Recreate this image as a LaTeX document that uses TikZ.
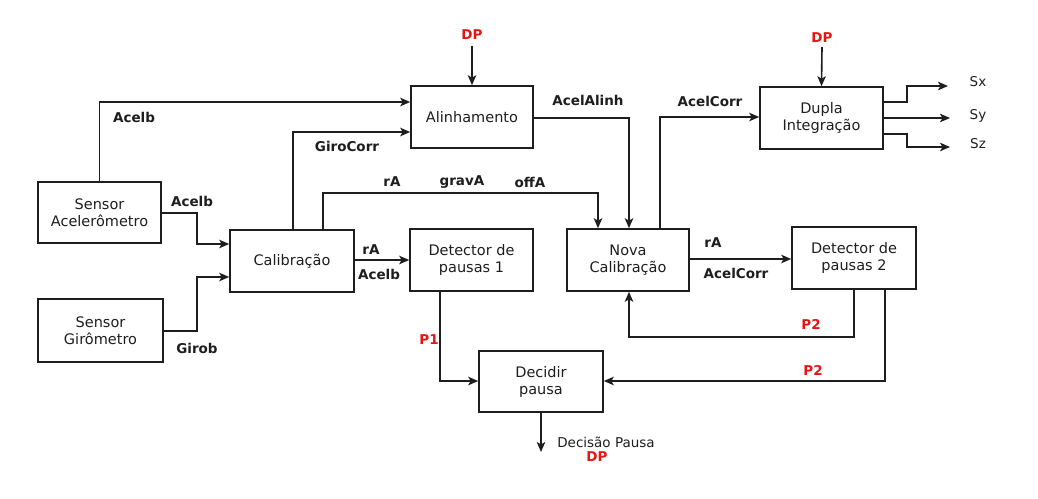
\documentclass[tikz,border=0pt]{standalone}
\usepackage{fontspec}
\setmainfont{DejaVu Sans}
\usetikzlibrary{arrows.meta}
\definecolor{lbred}{RGB}{232,20,20}
\definecolor{ink}{RGB}{30,30,30}
\begin{document}
\begin{tikzpicture}[x=1pt,y=-1pt,
  box/.style={draw=ink,line width=1.6pt,rectangle,align=center,inner sep=0pt,
    text=ink,font=\fontsize{14.5}{17}\selectfont},
  arr/.style={draw=ink,line width=1.6pt,-{Stealth[length=10pt,width=8.5pt,inset=2.5pt]}},
  lbl/.style={font=\fontsize{13.5}{16}\selectfont\bfseries,inner sep=0pt,text=ink},
  rlbl/.style={lbl,text=lbred},
  olbl/.style={font=\fontsize{13.5}{16}\selectfont,inner sep=0pt,text=ink}]
\path[use as bounding box,fill=white] (0,0) rectangle (1038,498);

% boxes
\node[box,minimum width=123,minimum height=61] (sa)  at (99.5,212.5) {Sensor\\Acelerômetro};
\node[box,minimum width=125,minimum height=63] (sg)  at (100.5,330.5) {Sensor\\Girômetro};
\node[box,minimum width=124,minimum height=62] (cal) at (292,261) {Calibração};
\node[box,minimum width=122,minimum height=62] (ali) at (472,117) {Alinhamento};
\node[box,minimum width=123,minimum height=62] (dp1) at (471.5,260) {Detector de\\pausas 1};
\node[box,minimum width=122,minimum height=62] (nc)  at (628,260) {Nova\\Calibração};
\node[box,minimum width=123,minimum height=62] (di)  at (821.5,118) {Dupla\\Integração};
\node[box,minimum width=124,minimum height=62] (dp2) at (854,258) {Detector de\\pausas 2};
\node[box,minimum width=124,minimum height=61] (dec) at (541,381.5) {Decidir\\pausa};

% labels
\node[lbl] (l1) at (134,117) {Acelb};
\node[lbl] (l2) at (347,146) {GiroCorr};
\node[lbl] (l3) at (192,201) {Acelb};
\node[lbl] (l4) at (197,348) {Girob};
\node[lbl] (l5) at (392,182) {rA};
\node[lbl] (l6) at (462,182) {gravA};
\node[lbl] (l7) at (530,182) {offA};
\node[lbl] (l8) at (371,250) {rA};
\node[lbl] (l9) at (379,274) {Acelb};
\node[rlbl] (dpa) at (472,35) {DP};
\node[lbl] (l10) at (588,100) {AcelAlinh};
\node[lbl] (l11) at (710,101) {AcelCorr};
\node[rlbl] (dpb) at (822,38) {DP};
\node[olbl] (sx) at (978,82) {Sx};
\node[olbl] (sy) at (978,116) {Sy};
\node[olbl] (sz) at (978,144) {Sz};
\node[lbl] (l12) at (713,243) {rA};
\node[lbl] (l13) at (736,273) {AcelCorr};
\node[rlbl] (p2a) at (811,324) {P2};
\node[rlbl] (p2b) at (813,370) {P2};
\node[rlbl] (p1) at (429,340) {P1};
\node[olbl] (dpt) at (606,442) {Decisão Pausa};
\node[rlbl] (dpc) at (597,457) {DP};

% free ends
\coordinate (sxe) at (948,86);
\coordinate (sye) at (950,118);
\coordinate (sze) at (950,147);
\coordinate (dece) at (541,452);

% connectors
\draw[arr] (sa.north) |- (ali.west |- 0,102);
\draw[arr] (cal.north -| 293,0) |- (ali.west |- 0,132);
\draw[arr] (cal.north -| 323,0) |- (598,193) -- (nc.north -| 598,0);
\draw[arr] (sa.east |- 0,213) -| (197,244) -- (cal.west |- 0,244);
\draw[arr] (sg.east |- 0,331) -| (197,277) -- (cal.west |- 0,277);
\draw[arr] (cal.east |- 0,260) -- (dp1.west |- 0,260);
\draw[arr] ([yshift=-6pt]dpa.south) -- (ali.north);
\draw[arr] (ali.east |- 0,118) -| (nc.north -| 629,0);
\draw[arr] (nc.north -| 660,0) |- (di.west |- 0,117);
\draw[arr] ([yshift=-4pt]dpb.south) -- (di.north);
\draw[arr] (di.east |- 0,102) -| (907,86) -- (sxe);
\draw[arr] (di.east |- 0,118) -- (sye);
\draw[arr] (di.east |- 0,134) -| (907,147) -- (sze);
\draw[arr] (nc.east |- 0,259) -- (dp2.west |- 0,259);
\draw[arr] (dp2.south -| 854,0) |- (629,337) -- (nc.south -| 629,0);
\draw[arr] (dp2.south -| 885,0) |- (dec.east |- 0,381);
\draw[arr] (dp1.south -| 440,0) |- (dec.west |- 0,381);
\draw[arr] (dec.south) -- (dece);
\end{tikzpicture}
\end{document}
